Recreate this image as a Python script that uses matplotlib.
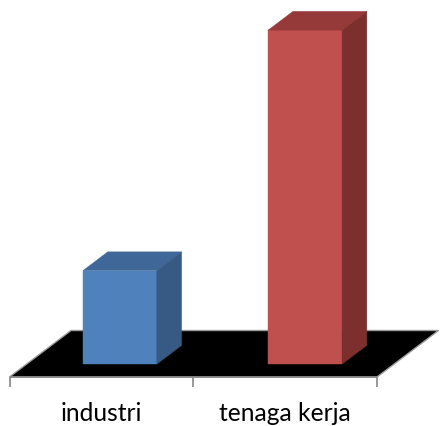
import matplotlib
matplotlib.use("Agg")
import matplotlib.pyplot as plt
from matplotlib.patches import Polygon

categories = ["industri", "tenaga kerja"]
values = [28, 100]
front_colors = ["#4F81BD", "#C0504D"]
top_colors = ["#3F6797", "#953A38"]
side_colors = ["#375A85", "#7C2F2D"]

W, H = 440, 426
fig = plt.figure(figsize=(W / 100, H / 100), dpi=100)
# axes is the front plane of the 3D box
ax = fig.add_axes([9.5 / W, (H - 377) / H, 367.5 / W, 334 / H])
ax.set_xlim(0, 2)
ax.set_ylim(0, 100)
ax.axis("off")

# oblique projection: one unit of depth moves this far in data units
depth_x = 61.5 / 183.75
depth_y = 46.5 / 3.34


def pt(x, v, d):
    return (x + d * depth_x, v + d * depth_y)


def face(points, color, **kw):
    ax.add_patch(Polygon(points, closed=True, facecolor=color, edgecolor=kw.pop("edgecolor", color),
                         linewidth=kw.pop("linewidth", 0.3), clip_on=False, **kw))


# floor
face([pt(0, 0, 0), pt(2, 0, 0), pt(2, 0, 1), pt(0, 0, 1)], "black", edgecolor="#9A9A9A", linewidth=1.0)

# axis line and ticks
ax.plot([0, 2], [0, 0], color="#868686", lw=1.2, clip_on=False, solid_capstyle="butt")
for t in range(3):
    ax.plot([t, t], [0, -2.9], color="#868686", lw=1.2, clip_on=False, solid_capstyle="butt")

# bars
bar_w = 0.402
d0, d1 = 0.277, 0.68
for i, v in enumerate(values):
    left = i * 1.008 + 0.508 - bar_w / 2
    right = left + bar_w
    face([pt(left, 0, d0), pt(right, 0, d0), pt(right, v, d0), pt(left, v, d0)], front_colors[i])
    face([pt(left, v, d0), pt(right, v, d0), pt(right, v, d1), pt(left, v, d1)], top_colors[i])
    face([pt(right, 0, d0), pt(right, 0, d1), pt(right, v, d1), pt(right, v, d0)], side_colors[i])

# category labels
for i, c in enumerate(categories):
    ax.text(i + 0.5, -11.0, c, ha="center", va="center", fontsize=17.7, family="Lato", color="black")

fig.savefig("out.png", dpi=100)
